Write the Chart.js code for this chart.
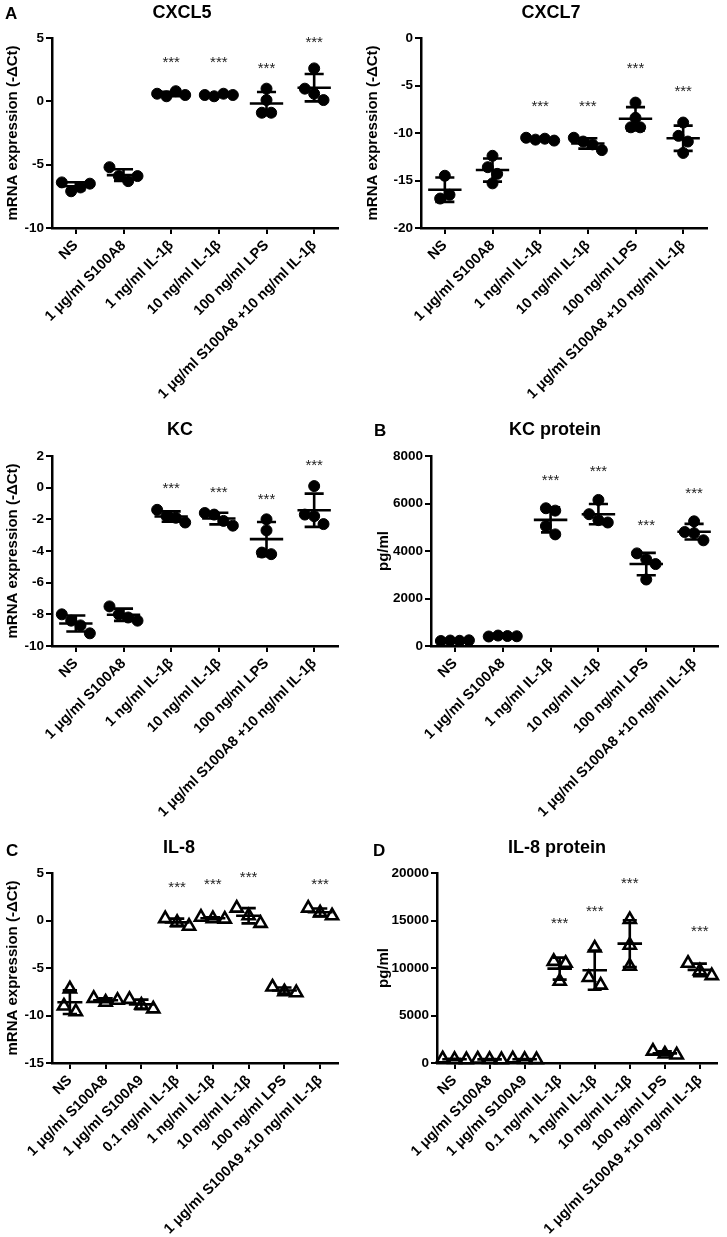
<!DOCTYPE html>
<html>
<head>
<meta charset="utf-8">
<script src="https://cdn.jsdelivr.net/npm/chart.js@4.4.1/dist/chart.umd.min.js"></script>
<style>
	body {
		margin: 0;
		background: #fff;
		width: 727px;
		height: 1237px;
		position: relative;
		overflow: hidden;
		font-family: "Liberation Sans", Arial, Helvetica, sans-serif;
	}
	canvas {
		position: absolute;
	}
	.title, .letter {
		position: absolute;
		font-weight: bold;
		line-height: 1;
		white-space: nowrap;
		color: #000;
	}
	.title {
		font-size: 18px;
		transform: translate(-50%, -50%);
	}
	.letter {
		font-size: 17px;
		transform: translateY(-50%);
	}
</style>
</head>
<body>
<script>

//
// categories
//

const mouseStimuli = ['NS', '1 μg/ml S100A8', '1 ng/ml IL-1β', '10 ng/ml IL-1β',
	'100 ng/ml LPS', '1 μg/ml S100A8 +10 ng/ml IL-1β'];
const humanStimuli = ['NS', '1 μg/ml S100A8', '1 μg/ml S100A9', '0.1 ng/ml IL-1β',
	'1 ng/ml IL-1β', '10 ng/ml IL-1β', '100 ng/ml LPS', '1 μg/ml S100A9 +10 ng/ml IL-1β'];

//
// values (one inner array per stimulus, one number per replicate)
//

const cxcl5Values = [[-6.4, -7.1, -6.8, -6.5], [-5.2, -5.9, -6.3, -5.9], [0.6, 0.4, 0.8, 0.5],
	[0.5, 0.4, 0.6, 0.5], [1.0, 0.1, -0.9, -0.9], [2.6, 1.0, 0.6, 0.1]];
const cxcl5Stars = [null, null, 3.0, 3.0, 2.6, 4.6];

const cxcl7Values = [[-14.5, -16.9, -16.5], [-12.4, -13.6, -14.3, -15.3], [-10.5, -10.7, -10.6, -10.8],
	[-10.5, -10.9, -11.2, -11.8], [-6.8, -8.4, -9.4, -9.4], [-8.9, -10.3, -10.9, -12.1]];
const cxcl7Stars = [null, null, -7.2, -7.2, -3.2, -5.7];

const kcValues = [[-8.0, -8.4, -8.7, -9.2], [-7.5, -8.0, -8.2, -8.4], [-1.4, -1.8, -1.9, -2.2],
	[-1.6, -1.7, -2.1, -2.4], [-2.0, -2.7, -4.1, -4.2], [0.1, -1.7, -1.8, -2.3]];
const kcStars = [null, null, -0.05, -0.3, -0.75, 1.35];

const kcProteinValues = [[210, 230, 220, 240], [400, 440, 420, 410], [5800, 5700, 5050, 4700],
	[6150, 5550, 5300, 5200], [3900, 3650, 3450, 2800], [5250, 4800, 4750, 4450]];
const kcProteinStars = [null, null, 6950, 7350, 5050, 6400];

const il8Values = [[-7.2, -9.0, -9.6], [-8.2, -8.6, -8.4], [-8.3, -8.9, -9.3], [0.2, -0.2, -0.6],
	[0.35, 0.2, 0.15], [1.3, 0.5, -0.3], [-7.0, -7.5, -7.6], [1.3, 0.8, 0.5]];
const il8Stars = [null, null, null, 3.4, 3.75, 4.5, null, 3.7];

const il8ProteinValues = [[450, 380, 350], [420, 380, 350], [430, 380, 360], [10700, 10500, 8600],
	[12100, 9000, 8200], [15100, 12400, 10200], [1250, 950, 850], [10500, 9700, 9200]];
const il8ProteinStars = [null, null, null, 14600, 15900, 18900, null, 13800];

//
// y axis ranges: [min, max, step]
//

const cxcl5Range = [-10, 5, 5];
const cxcl7Range = [-20, 0, 5];
const kcRange = [-10, 2, 2];
const kcProteinRange = [0, 8000, 2000];
const il8Range = [-15, 5, 5];
const il8ProteinRange = [0, 20000, 5000];

//
// helpers
//

const fontFamily = '"Liberation Sans", Arial, Helvetica, sans-serif';

function mean(values) {
	return values.reduce((a, b) => a + b, 0) / values.length;
}

function stdev(values) {
	let m = mean(values);
	let sum = values.reduce((a, b) => a + (b - m) * (b - m), 0);
	return Math.sqrt(sum / (values.length - 1));
}

// spread replicates that would overlap into a centred row, like a dot plot
//
function spreadGroup(values, radius, pxPerUnit, pxPerCat) {
	let order = values.map((v, i) => i).sort((a, b) => values[b] - values[a]);
	let offsets = values.map(() => 0);
	let step = radius * 1.7;
	let cluster = [order[0]];
	let flush = function() {
		let k = cluster.length;
		cluster.slice().sort((a, b) => a - b).forEach((idx, j) => {
			offsets[idx] = (j - (k - 1) / 2) * step / pxPerCat;
		});
	};
	for (let j = 1; j < order.length; j++) {
		let gap = (values[order[j - 1]] - values[order[j]]) * pxPerUnit;
		if (gap < step) {
			cluster.push(order[j]);
		} else {
			flush();
			cluster = [order[j]];
		}
	}
	flush();
	return offsets;
}

function overlayPlugin(groups, stars) {
	return {
		id: 'meanSd',
		afterDatasetsDraw: function(chart) {
			let ctx = chart.ctx;
			let x = chart.scales.x;
			let y = chart.scales.y;
			let step = x.getPixelForValue(1) - x.getPixelForValue(0);
			ctx.save();
			ctx.strokeStyle = '#000';
			ctx.lineWidth = 2.6;
			groups.forEach((values, i) => {
				let m = mean(values);
				let s = stdev(values);
				let cx = x.getPixelForValue(i);
				let ym = y.getPixelForValue(m);
				let yt = y.getPixelForValue(m + s);
				let yb = y.getPixelForValue(m - s);
				let hw = step * 0.35;
				let cw = step * 0.2;
				ctx.beginPath();
				ctx.moveTo(cx - hw, ym);
				ctx.lineTo(cx + hw, ym);
				ctx.moveTo(cx, yt);
				ctx.lineTo(cx, yb);
				ctx.moveTo(cx - cw, yt);
				ctx.lineTo(cx + cw, yt);
				ctx.moveTo(cx - cw, yb);
				ctx.lineTo(cx + cw, yb);
				ctx.stroke();
			});
			ctx.fillStyle = '#222';
			ctx.font = '15px ' + fontFamily;
			ctx.textAlign = 'center';
			ctx.textBaseline = 'middle';
			stars.forEach((v, i) => {
				if (v !== null) {
					ctx.fillText('***', x.getPixelForValue(i), y.getPixelForValue(v));
				}
			});
			ctx.restore();
		}
	};
}

function addText(cls, text, left, top) {
	let div = document.createElement('div');
	div.className = cls;
	div.textContent = text;
	div.style.left = left + 'px';
	div.style.top = top + 'px';
	document.body.appendChild(div);
}

//
// panel builder
//

function makePanel(p) {
	let canvas = document.createElement('canvas');
	canvas.width = p.w;
	canvas.height = p.h;
	canvas.style.left = p.left + 'px';
	canvas.style.top = p.top + 'px';
	document.body.appendChild(canvas);

	let n = p.labels.length;
	let plotW = p.w - p.yWidth - p.padRight;
	let plotH = p.h - p.padTop - p.xHeight;
	let pxPerCat = plotW / n;
	let pxPerUnit = plotH / (p.range[1] - p.range[0]);
	let radius = p.triangles ? 7 : 5.5;

	let points = [];
	p.values.forEach((values, i) => {
		let offsets = spreadGroup(values, radius, pxPerUnit, pxPerCat);
		values.forEach((v, j) => {
			points.push({x: i + offsets[j], y: v});
		});
	});

	let tickStyle = {
		display: true,
		drawOnChartArea: false,
		drawTicks: true,
		tickLength: 6,
		color: '#000',
		lineWidth: 2
	};

	new Chart(canvas, {
		type: 'scatter',
		data: {
			datasets: [{
				data: points,
				pointStyle: p.triangles ? 'triangle' : 'circle',
				pointRadius: radius,
				pointHoverRadius: radius,
				backgroundColor: p.triangles ? '#fff' : '#000',
				borderColor: '#000',
				borderWidth: p.triangles ? 2.6 : 1,
				clip: false
			}]
		},
		options: {
			responsive: false,
			animation: false,
			events: [],
			layout: {
				padding: {top: p.padTop, right: p.padRight, left: 0, bottom: 0}
			},
			plugins: {
				legend: {display: false},
				tooltip: {enabled: false}
			},
			scales: {
				x: {
					type: 'linear',
					min: -0.5,
					max: n - 0.5,
					afterBuildTicks: function(scale) {
						scale.ticks = p.labels.map((label, i) => ({value: i}));
					},
					afterFit: function(scale) {
						scale.height = p.xHeight;
					},
					ticks: {
						autoSkip: false,
						minRotation: 45,
						maxRotation: 45,
						padding: 3,
						color: '#000',
						font: {family: fontFamily, size: 14.5, weight: 'bold'},
						callback: function(value) {
							return p.labels[Math.round(value)];
						}
					},
					grid: tickStyle,
					border: {display: true, color: '#000', width: 2.5}
				},
				y: {
					type: 'linear',
					min: p.range[0],
					max: p.range[1],
					afterFit: function(scale) {
						scale.width = p.yWidth;
					},
					ticks: {
						stepSize: p.range[2],
						padding: 2,
						color: '#000',
						font: {family: fontFamily, size: 13.5, weight: 'bold'},
						callback: function(value) {
							return String(value);
						}
					},
					title: {
						display: true,
						text: p.yTitle,
						color: '#000',
						padding: {top: p.yTitlePad, bottom: 0},
						font: {family: fontFamily, size: 15, weight: 'bold'}
					},
					grid: tickStyle,
					border: {display: true, color: '#000', width: 2.5}
				}
			}
		},
		plugins: [overlayPlugin(p.values, p.stars)]
	});
}

//
// panels
//

const mrnaTitle = 'mRNA expression (-ΔCt)';

makePanel({left: 0, top: 0, w: 360, h: 402, yWidth: 52, padTop: 38, padRight: 22, xHeight: 174,
	labels: mouseStimuli, values: cxcl5Values, stars: cxcl5Stars, range: cxcl5Range,
	yTitle: mrnaTitle, yTitlePad: 4, triangles: false});
makePanel({left: 360, top: 0, w: 367, h: 402, yWidth: 61, padTop: 38, padRight: 20, xHeight: 174,
	labels: mouseStimuli, values: cxcl7Values, stars: cxcl7Stars, range: cxcl7Range,
	yTitle: mrnaTitle, yTitlePad: 4, triangles: false});
makePanel({left: 0, top: 410, w: 360, h: 410, yWidth: 52, padTop: 46, padRight: 22, xHeight: 174,
	labels: mouseStimuli, values: kcValues, stars: kcStars, range: kcRange,
	yTitle: mrnaTitle, yTitlePad: 4, triangles: false});
makePanel({left: 360, top: 410, w: 367, h: 410, yWidth: 71, padTop: 46, padRight: 9, xHeight: 174,
	labels: mouseStimuli, values: kcProteinValues, stars: kcProteinStars, range: kcProteinRange,
	yTitle: 'pg/ml', yTitlePad: 15, triangles: false});
makePanel({left: 0, top: 830, w: 360, h: 407, yWidth: 52, padTop: 43, padRight: 22, xHeight: 174,
	labels: humanStimuli, values: il8Values, stars: il8Stars, range: il8Range,
	yTitle: mrnaTitle, yTitlePad: 4, triangles: true});
makePanel({left: 360, top: 830, w: 367, h: 407, yWidth: 77, padTop: 43, padRight: 9, xHeight: 174,
	labels: humanStimuli, values: il8ProteinValues, stars: il8ProteinStars, range: il8ProteinRange,
	yTitle: 'pg/ml', yTitlePad: 15, triangles: true});

// titles and panel letters
//
addText('letter', 'A', 5, 13);
addText('title', 'CXCL5', 182, 12);
addText('title', 'CXCL7', 551, 12);
addText('title', 'KC', 180, 429);
addText('letter', 'B', 374, 430);
addText('title', 'KC protein', 555, 429);
addText('letter', 'C', 6, 850);
addText('title', 'IL-8', 179, 847);
addText('letter', 'D', 373, 850);
addText('title', 'IL-8 protein', 557, 847);

</script>
</body>
</html>
